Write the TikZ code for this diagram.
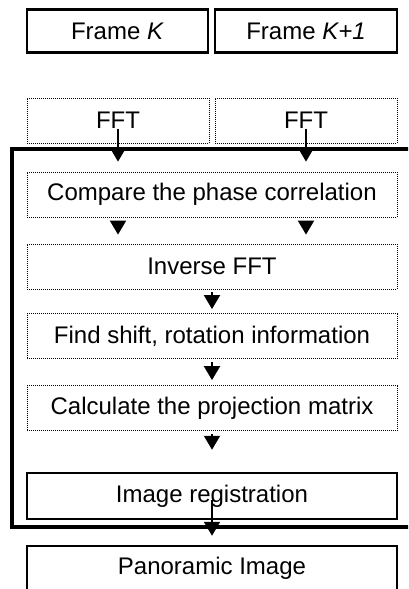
\documentclass[tikz,border=0pt]{standalone}
\usepackage{fontspec}
\setmainfont{Liberation Sans}
\usetikzlibrary{arrows.meta}
\begin{document}
\begin{tikzpicture}[x=1pt, y=-1pt,
    every node/.style={font=\fontsize{24}{28}\selectfont, inner sep=0pt},
    framebox/.style={draw, line width=2.5pt, minimum height=43pt},
    dotbox/.style={draw, line width=0.8pt, dash pattern=on 1pt off 1pt, minimum height=45pt},
    tri/.style={line width=2pt, -{Triangle[width=16pt, length=14pt]}}]
    \useasboundingbox (0,0) rectangle (408,589);
    \clip (0,0) rectangle (408,589);
    % input frames
    \node[framebox, minimum width=181pt] (frK) at (117.5,31) {Frame \textit{K}};
    \node[framebox, minimum width=182pt] (frKa) at (306,31) {Frame \textit{K+1}};
    % fft of each frame
    \node[dotbox, minimum width=182pt] (fftK) at (118,120.5) {FFT};
    \node[dotbox, minimum width=182pt] (fftKa) at (306,120.5) {FFT};
    % registration block (thick frame, open to the right)
    \draw[line width=4pt] (420,149) -- (12,149) -- (12,527) -- (420,527);
    % steps
    \node[dotbox, minimum width=370pt] (cmp) at (212,194.5) {Compare the phase correlation};
    \node[dotbox, minimum width=370pt] (inv) at (212,266.5) {Inverse FFT};
    \node[dotbox, minimum width=370pt] (find) at (212,336) {Find shift, rotation information};
    \node[dotbox, minimum width=370pt] (calc) at (212,408) {Calculate the projection matrix};
    \node[framebox, minimum width=370pt, minimum height=46pt] (reg) at (212,496) {Image registration};
    \node[framebox, minimum width=370pt, minimum height=45pt] (pano) at (212,568.5) {Panoramic Image};
    % arrows
    \draw[tri, shorten <=8pt, shorten >=10pt] (fftK.center) -- (cmp.north -| fftK);
    \draw[tri, shorten <=8pt, shorten >=10pt] (fftKa.center) -- (cmp.north -| fftKa);
    \draw[tri, shorten <=4pt, shorten >=9pt] (cmp.south -| fftK) -- (inv.north -| fftK);
    \draw[tri, shorten <=4pt, shorten >=9pt] (cmp.south -| fftKa) -- (inv.north -| fftKa);
    \draw[tri, shorten <=3pt, shorten >=4pt] (inv) -- (find);
    \draw[tri, shorten <=3pt, shorten >=5pt] (find) -- (calc);
    \draw[tri, shorten <=3pt, shorten >=22pt] (calc) -- (reg);
    \draw[tri, shorten <=4pt, shorten >=9pt] (reg.center) -- (pano.north);
\end{tikzpicture}
\end{document}
